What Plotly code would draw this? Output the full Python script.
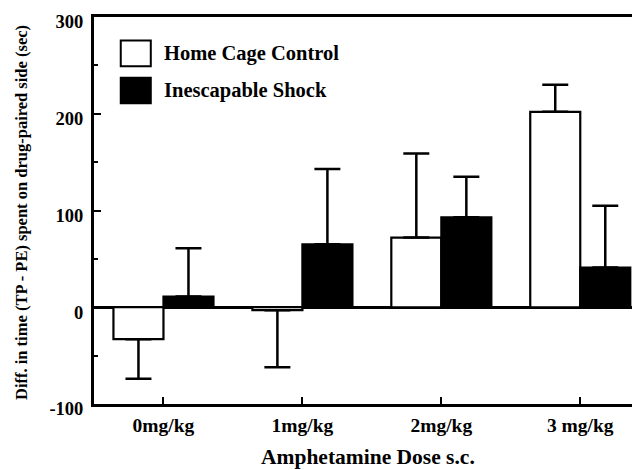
import plotly.graph_objects as go

doses = ["0mg/kg", "1mg/kg", "2mg/kg", "3 mg/kg"]
series_names = ["Home Cage Control", "Inescapable Shock"]
home_mean = [-33, -3, 72, 202]
home_err_plus = [0, 0, 87, 28]
home_err_minus = [41, 59, 0, 0]
shock_mean = [11, 65, 93, 41]
shock_err_plus = [50, 78, 42, 64]
shock_err_minus = [0, 0, 0, 0]
y_tick_vals = [-100, 0, 100, 200, 300]
y_tick_text = ["-100", "0", "100", "200", "300"]
x_title = "Amphetamine Dose s.c."
y_title = "Diff. in time (TP - PE) spent on drug-paired side (sec)"

FONT = "Liberation Serif, Times New Roman, serif"

fig = go.Figure()
fig.add_trace(go.Bar(
    x=doses, y=home_mean, name=series_names[0],
    marker=dict(color="white", line=dict(color="black", width=2.2)),
    error_y=dict(type="data", symmetric=False, array=home_err_plus,
                 arrayminus=home_err_minus, color="black", thickness=2.5, width=13),
    showlegend=False,
))
fig.add_trace(go.Bar(
    x=doses, y=shock_mean, name=series_names[1],
    marker=dict(color="black", line=dict(color="black", width=2.2)),
    error_y=dict(type="data", symmetric=False, array=shock_err_plus,
                 arrayminus=shock_err_minus, color="black", thickness=2.5, width=13),
    showlegend=False,
))

# manual legend
legend_rows = [(0.906, "white"), (0.810, "black")]
for (yc, fill), name in zip(legend_rows, series_names):
    fig.add_shape(type="rect", xref="paper", yref="paper",
                  x0=0.049, x1=0.104, y0=yc - 0.033, y1=yc + 0.033,
                  fillcolor=fill, line=dict(color="black", width=2))
    fig.add_annotation(xref="paper", yref="paper", x=0.1245, y=yc,
                       xanchor="left", yanchor="middle", text=name, showarrow=False,
                       font=dict(family=FONT, size=20.5, color="black", weight="bold"))

# axis titles
fig.add_annotation(xref="paper", yref="paper", x=(368 - 94) / 546, y=(404 - 457) / 387,
                   xanchor="center", yanchor="middle", text=x_title, showarrow=False,
                   font=dict(family=FONT, size=21.5, color="black", weight="bold"))
fig.add_annotation(xref="paper", yref="paper", x=(21 - 94) / 546, y=(404 - 213) / 387,
                   xanchor="center", yanchor="middle", text=y_title, showarrow=False,
                   textangle=-90,
                   font=dict(family=FONT, size=16.5, color="black", weight="bold"))

# page body adds an 8px offset; figure sized so the plot area lands where the reference has it
fig.update_layout(
    width=632, height=462,
    margin=dict(l=86, r=0, t=9, b=66, pad=0),
    plot_bgcolor="white", paper_bgcolor="white",
    barmode="group", bargap=0.28, bargroupgap=0,
    font=dict(family=FONT, color="black"),
)
fig.update_xaxes(
    range=[-0.5, 3.43], showline=True, linecolor="black", linewidth=3, mirror=True,
    ticks="inside", ticklen=7, tickwidth=2, tickcolor="black",
    showgrid=False, zeroline=False, automargin=False,
    ticklabelstandoff=2,
    tickfont=dict(family=FONT, size=19.5, color="black", weight="bold"),
)
fig.update_yaxes(
    range=[-100, 300], showline=True, linecolor="black", linewidth=3, mirror=False,
    tickvals=y_tick_vals, ticktext=y_tick_text,
    ticks="inside", ticklen=7, tickwidth=2, tickcolor="black",
    minor=dict(dtick=50, ticks="inside", ticklen=4, tickwidth=1.5, tickcolor="black", showgrid=False),
    showgrid=False, zeroline=True, zerolinecolor="black", zerolinewidth=3,
    automargin=False, ticklabelshift=5, ticklabelstandoff=4,
    tickfont=dict(family=FONT, size=18.5, color="black", weight="bold"),
)

fig.write_html("out.html")
